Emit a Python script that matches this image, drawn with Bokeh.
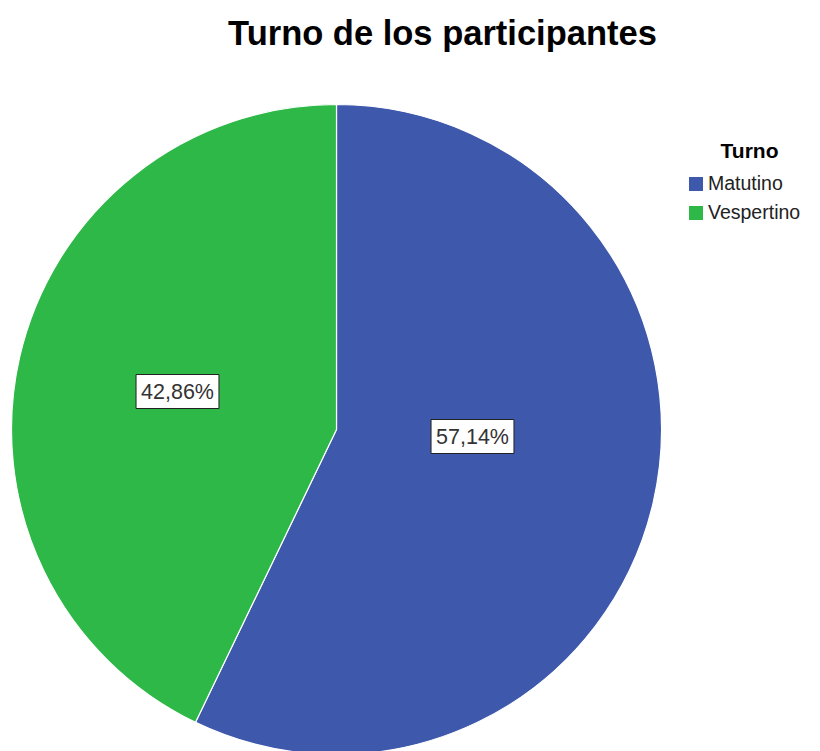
import math
from bokeh.plotting import figure
from bokeh.models import Range1d, Label, Legend, LegendItem, ColumnDataSource
from bokeh.core.properties import value
from bokeh.embed import file_html
from bokeh.resources import INLINE

# ---- data ----
title_text = "Turno de los participantes"
legend_title = "Turno"
categories = ["Matutino", "Vespertino"]
percents = [57.14, 42.86]
colors = ["#3E58AC", "#2EB848"]
pct_labels = ["57,14%", "42,86%"]

W, H = 820, 751
CX, CY, R = 336, H - 429, 325

# angles: start at top (90 deg), go clockwise
starts, ends = [], []
acc = 0.0
for pc in percents:
    a_end = math.pi / 2 - 2 * math.pi * acc / 100.0
    a_start = math.pi / 2 - 2 * math.pi * (acc + pc) / 100.0
    starts.append(a_start)
    ends.append(a_end)
    acc += pc

p = figure(width=W, height=H, output_backend="svg", toolbar_location=None,
           x_range=Range1d(0, W), y_range=Range1d(0, H),
           min_border=0, min_border_left=0, min_border_right=0,
           min_border_top=0, min_border_bottom=0)
p.axis.visible = False
p.grid.visible = False
p.outline_line_color = None
p.background_fill_color = "white"
p.border_fill_color = "white"

renderers = []
for i, cat in enumerate(categories):
    src = ColumnDataSource(dict(x=[CX], y=[CY], s=[starts[i]], e=[ends[i]]))
    r = p.wedge(x="x", y="y", radius=R, start_angle="s", end_angle="e",
                fill_color=colors[i], line_color="white", line_width=1.2,
                source=src)
    renderers.append(r)

# percentage labels
label_off = [(136, -7), (-159, 38)]
lsrc = ColumnDataSource(dict(
    x=[CX + dx for dx, dy in label_off],
    y=[CY + dy for dx, dy in label_off],
    t=pct_labels))
p.text(x="x", y="y", text="t", source=lsrc,
       text_align="center", text_baseline="middle",
       text_font=value("Liberation Sans"), text_font_size=value("21.5px"),
       text_color="#333333",
       background_fill_color="white",
       border_line_color="#222222", border_line_width=1,
       padding=5)

# title
p.add_layout(Label(x=442, y=H - 32, text=title_text, text_align="center",
                   text_baseline="middle", text_font="Liberation Sans",
                   text_font_size="34.5px", text_font_style="bold",
                   text_color="black"))

# legend title
p.add_layout(Label(x=749, y=H - 150, text=legend_title, text_align="center",
                   text_baseline="middle", text_font="Liberation Sans",
                   text_font_size="21px", text_font_style="bold",
                   text_color="black"))

legend = Legend(items=[LegendItem(label=c, renderers=[r]) for c, r in zip(categories, renderers)],
                location=(686, H - 178 - 46), orientation="vertical",
                glyph_width=19, glyph_height=19, label_height=20,
                label_standoff=3, spacing=6, padding=0, margin=0,
                label_text_font="Liberation Sans", label_text_font_size="19.5px",
                label_text_color="#222222",
                border_line_color=None, background_fill_alpha=0)
p.add_layout(legend)

open("out.html", "w").write(file_html(p, INLINE))
